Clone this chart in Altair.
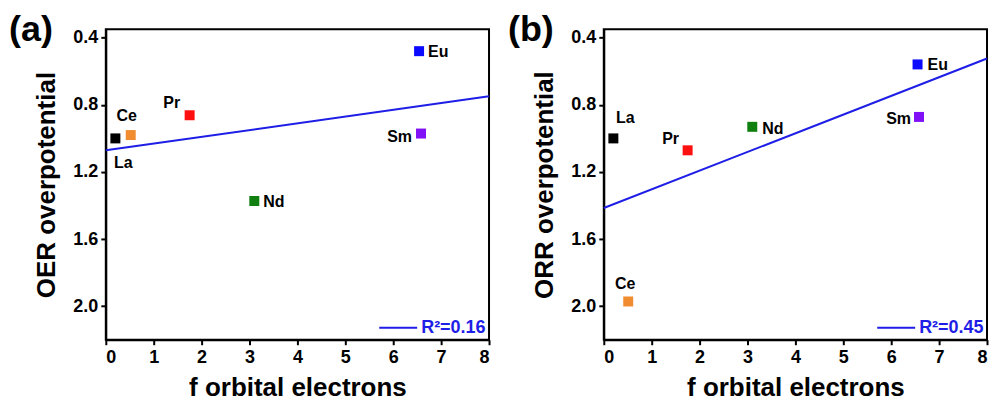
import altair as alt
import pandas as pd

# ---------------- data ----------------
elements = ["La", "Ce", "Pr", "Nd", "Eu", "Sm"]

oer_f_electrons = [0.2, 0.52, 1.75, 3.1, 6.54, 6.58]
oer_overpotential = [1.00, 0.98, 0.862, 1.373, 0.48, 0.971]

orr_f_electrons = [0.2, 0.51, 1.75, 3.1, 6.55, 6.58]
orr_overpotential = [1.00, 1.972, 1.071, 0.931, 0.559, 0.872]

fit_x = [0, 8]
oer_fit_y = [1.071, 0.749]
orr_fit_y = [1.415, 0.524]

oer_r2 = "R²=0.16"
orr_r2 = "R²=0.45"

x_ticks = [0, 1, 2, 3, 4, 5, 6, 7, 8]
y_ticks = [0.4, 0.8, 1.2, 1.6, 2.0]

# ---------------- style ----------------
FONT = "Liberation Sans"
element_colors = ["#000000", "#F28C30", "#FF1010", "#0F7F0F", "#0A0AFF", "#8010F5"]
LINE_COLOR = "#1E1EE6"

# label placement per panel: (dx, dy, align)
oer_label_pos = {
    "La": (8, 25, "center"),
    "Ce": (-4, -19, "center"),
    "Pr": (-18, -12, "center"),
    "Nd": (9, 1, "left"),
    "Eu": (9, 1, "left"),
    "Sm": (-9, 3, "right"),
}
orr_label_pos = {
    "La": (12, -20, "center"),
    "Ce": (-3, -18, "center"),
    "Pr": (-17, -11, "center"),
    "Nd": (10, 2, "left"),
    "Eu": (10, 1, "left"),
    "Sm": (-8, 2, "right"),
}


def panel(xs, ys, fit_y, r2, ytitle, tag, label_pos, tag_dx):
    pts = pd.DataFrame({"x": xs, "y": ys, "el": elements})
    fit = pd.DataFrame({"x": fit_x, "y": fit_y, "fit": [r2] * len(fit_x)})

    xsc = alt.Scale(domain=[0, 8], nice=False, zero=False)
    ysc = alt.Scale(domain=[0.35, 2.2], reverse=True, nice=False, zero=False)
    xax = alt.Axis(values=x_ticks, format="d", title="f orbital electrons",
                   labelPadding=4, titlePadding=8)
    yax = alt.Axis(values=y_ticks, format=".1f", title=ytitle,
                   labelPadding=3, titlePadding=13)

    line = alt.Chart(fit).mark_line(strokeWidth=2).encode(
        x=alt.X("x:Q", scale=xsc, axis=xax),
        y=alt.Y("y:Q", scale=ysc, axis=yax),
        stroke=alt.Stroke(
            "fit:N",
            scale=alt.Scale(domain=[r2], range=[LINE_COLOR]),
            legend=alt.Legend(
                title=None, orient="bottom-right", offset=3, padding=0,
                symbolType="stroke", symbolSize=1444, symbolStrokeWidth=2,
                labelFont=FONT, labelFontSize=18, labelFontWeight="bold",
                labelColor=LINE_COLOR, labelOffset=3,
            ),
        ),
    )

    base = alt.Chart(pts)
    points = base.mark_square(size=100, opacity=1).encode(
        x=alt.X("x:Q", scale=xsc, axis=xax),
        y=alt.Y("y:Q", scale=ysc, axis=yax),
        fill=alt.Fill("el:N", scale=alt.Scale(domain=elements, range=element_colors),
                      legend=None),
    )

    labels = []
    for el in elements:
        dx, dy, align = label_pos[el]
        labels.append(
            base.transform_filter(alt.datum.el == el).mark_text(
                dx=dx, dy=dy, align=align, baseline="middle",
                font=FONT, fontSize=16, fontWeight="bold", color="black",
            ).encode(x="x:Q", y="y:Q", text="el:N")
        )

    return alt.layer(line, points, *labels).properties(
        width=384, height=311,
        title=alt.TitleParams(
            tag, anchor="start", frame="group", dx=tag_dx, offset=-20,
            font=FONT, fontSize=36, fontWeight="bold", color="black",
        ),
    ).resolve_scale(stroke="independent")


left = panel(oer_f_electrons, oer_overpotential, oer_fit_y, oer_r2,
             "OER overpotential", "(a)", oer_label_pos, -97)
right = panel(orr_f_electrons, orr_overpotential, orr_fit_y, orr_r2,
              "ORR overpotential", "(b)", orr_label_pos, -96)

chart = alt.hconcat(left, right, spacing=13).resolve_scale(
    x="independent", y="independent", stroke="independent", fill="independent"
).resolve_legend(stroke="independent").properties(
    padding={"left": 0, "top": 2, "right": 0, "bottom": 0}
).configure_view(
    stroke="black", strokeWidth=2
).configure_axis(
    grid=False, domainColor="black", domainWidth=2, tickColor="black",
    tickWidth=2, tickSize=5, labelFont=FONT, labelFontSize=18,
    labelFontWeight="bold", labelColor="black", titleFont=FONT,
    titleFontSize=26, titleFontWeight="bold", titleColor="black",
)

chart.save("out.html", embed_options={"renderer": "svg", "actions": False})
